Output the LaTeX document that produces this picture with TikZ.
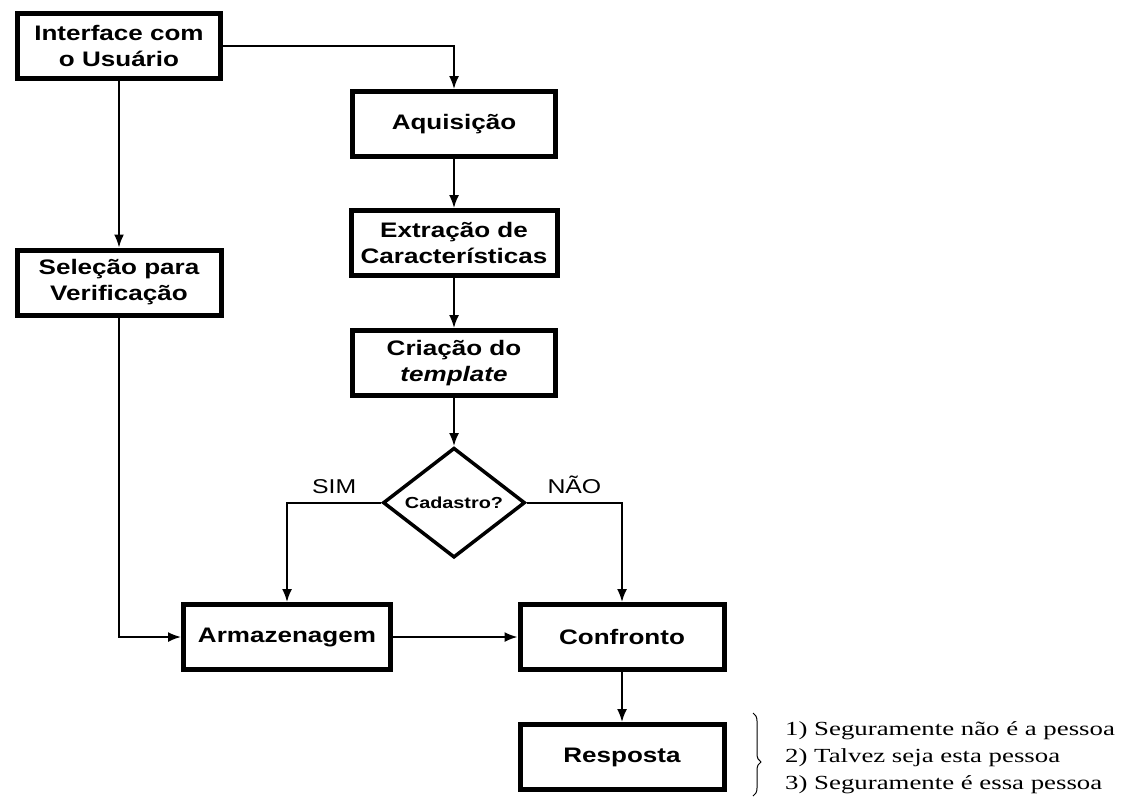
\documentclass[tikz,border=0pt]{standalone}
\usepackage{fontspec}
\newfontfamily\boxfont[FakeStretch=1.24]{Liberation Sans}
\newfontfamily\notefont[FakeStretch=1.34]{Liberation Serif}
\usetikzlibrary{positioning,shapes.geometric,arrows.meta,decorations.pathreplacing}
\tikzset{stagebox/.style={draw,line width=5pt,minimum width=203pt,minimum height=65pt,
    inner sep=0pt,align=center,font=\boxfont\bfseries\fontsize{21}{26}\selectfont} }
\tikzset{flow/.style={line width=1.8pt,-{Latex[length=13pt,width=10pt]}} }

\begin{document}
\begin{tikzpicture}[x=1pt,y=-1pt]
    \path[use as bounding box,fill=white] (0,0) rectangle (1121,796);
    % left column
    \node[stagebox] (ui) at (119,46) {Interface com\\o Usu\'ario};
    \node[stagebox,minimum width=204pt] (sel) at (119,282.5) {Sele\c{c}\~ao para\\Verifica\c{c}\~ao};
    % middle column
    \node[stagebox] (aq) at (454,124) {Aquisi\c{c}\~ao};
    \node[stagebox,minimum width=206pt,below=49pt of aq] (ext) {Extra\c{c}\~ao de\\Caracter\'isticas};
    \node[stagebox,below=50pt of ext] (tpl) {Cria\c{c}\~ao do\\\textit{template}};
    \node[draw,diamond,line width=3.5pt,minimum width=142pt,minimum height=106pt,inner sep=0pt,
        font=\boxfont\bfseries\fontsize{16}{19}\selectfont,below=48pt of tpl] (cad) {Cadastro?};
    % bottom row
    \node[stagebox,minimum width=207pt] (arm) at (287,637) {Armazenagem};
    \node[stagebox,minimum width=204pt] (conf) at (622,637) {Confronto};
    \node[stagebox,minimum width=204pt,below=50pt of conf] (resp) {Resposta};
    \node[anchor=north west,inner sep=0pt,align=left,font=\notefont\fontsize{20}{27}\selectfont]
        (notes) at (785,721) {1) Seguramente n\~ao \'e a pessoa\\2) Talvez seja esta pessoa\\3) Seguramente \'e essa pessoa};
    \coordinate (bt) at (753,713);
    \coordinate (bb) at (753,796);

    \draw[flow] (ui.east) -| (aq.north);
    \draw[flow] (ui.south) -- (sel.north);
    \draw[flow] (sel.south) |- (arm.west);
    \draw[flow] (aq) -- (ext);
    \draw[flow] (ext) -- (tpl);
    \draw[flow] (tpl) -- (cad);
    \draw[flow] (cad.west) -| node[pos=0.25,above=5pt,font=\boxfont\fontsize{20}{24}\selectfont] (sim) {SIM} (arm.north);
    \draw[flow] (cad.east) -| node[pos=0.25,above=5pt,font=\boxfont\fontsize{20}{24}\selectfont] (nao) {N\~AO} (conf.north);
    \draw[flow] (arm) -- (conf);
    \draw[flow] (conf) -- (resp);
    \draw[line width=1pt,decorate,decoration={brace,amplitude=8pt,aspect=0.59}] (bt) -- (bb);
\end{tikzpicture}
\end{document}
